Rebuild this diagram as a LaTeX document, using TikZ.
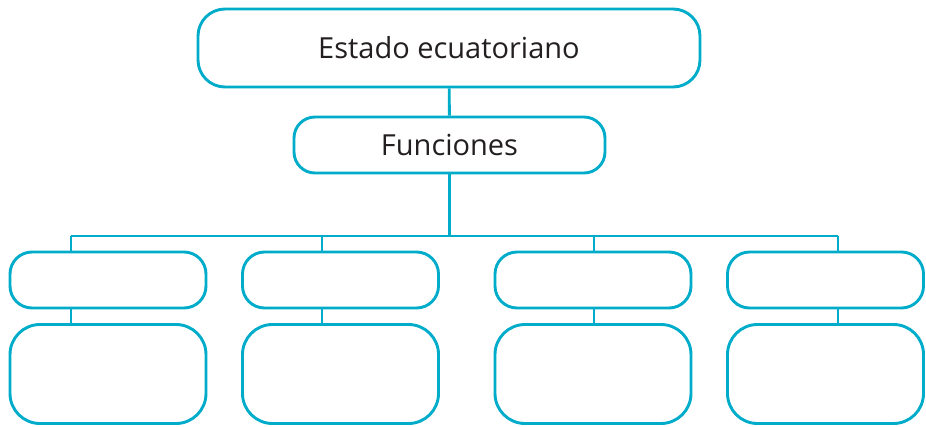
\documentclass[tikz,border=0pt]{standalone}
\usepackage{fontspec}
\setmainfont{Open Sans}
\definecolor{celeste}{RGB}{0,172,202}
\definecolor{texto}{RGB}{35,31,32}
\tikzset{
  caja/.style={draw=celeste, line width=2.9pt, rounded corners=22pt, inner sep=0pt,
    text=texto, font=\fontsize{29}{34}\selectfont},
  linea/.style={draw=celeste, line width=2.9pt}
}
\begin{document}
\begin{tikzpicture}[x=1pt,y=-1pt]
  \useasboundingbox (0,0) rectangle (926,426);
  \node[caja, rounded corners=27pt, minimum width=502pt, minimum height=78pt] (estado) at (449,48) {Estado ecuatoriano};
  \node[caja, rounded corners=21pt, minimum width=311pt, minimum height=56pt] (funciones) at (449.5,145) {Funciones};
  \draw[linea] (estado) -- (funciones);
  % barra horizontal y columnas
  \foreach \i/\cx/\dx in {1/108/71, 2/340.5/322, 3/593/594, 4/825.5/838} {
    \coordinate (b\i) at (\dx,236);
    \node[caja, minimum width=196pt, minimum height=56pt] (c\i) at (\cx,280) {};
    \node[caja, rounded corners=30pt, minimum width=196pt, minimum height=99pt] (d\i) at (\cx,374) {};
    \draw[linea] (b\i) -- (b\i |- c\i.north);
    \draw[linea] (b\i |- c\i.south) -- (b\i |- d\i.north);
  }
  \draw[linea] (b1) -- (b4);
  \draw[linea] (funciones) -- (funciones |- b1);
\end{tikzpicture}
\end{document}
